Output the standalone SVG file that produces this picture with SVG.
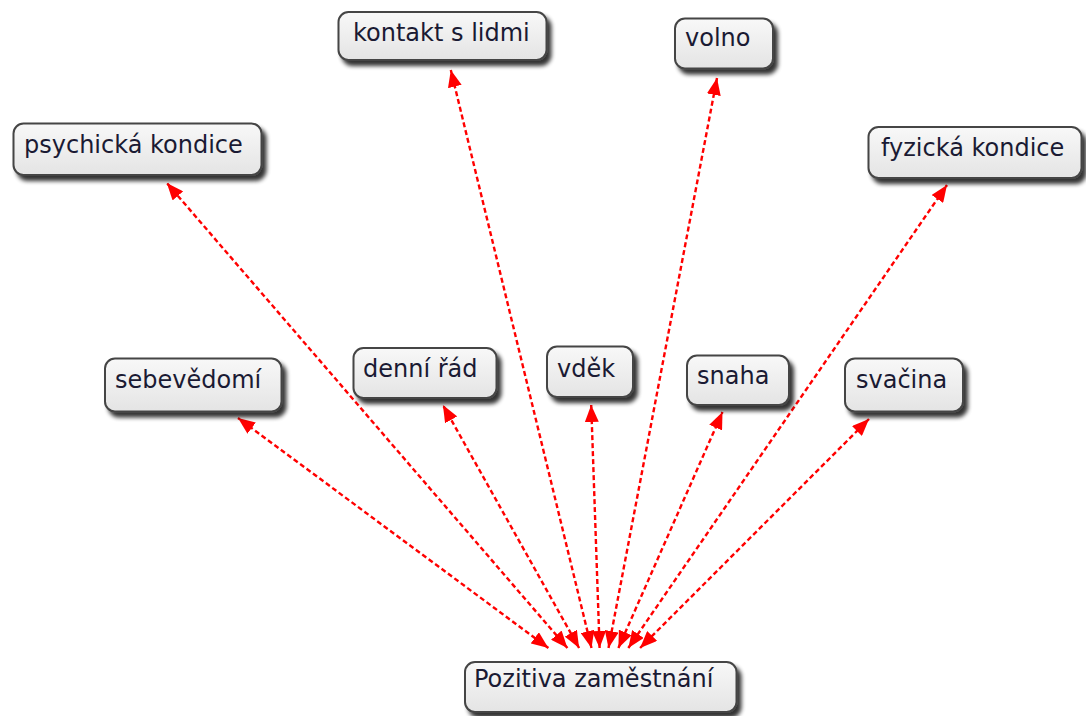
<svg xmlns="http://www.w3.org/2000/svg" width="1086" height="716" viewBox="0 0 1086 716">
<style>
.box{fill:url(#g);stroke:#454545;stroke-width:2;filter:url(#sh)}
.lbl{font-family:"DejaVu Sans",Verdana,sans-serif;font-size:24px;fill:#1a1a33}
.con{stroke:#ff0000;stroke-width:2.4;stroke-dasharray:5 3;fill:none;marker-start:url(#ah);marker-end:url(#ah)}
</style>
<defs>
<linearGradient id="g" x1="0" y1="0" x2="0" y2="1">
<stop offset="0" stop-color="#f8f8f8"/>
<stop offset="1" stop-color="#e4e4e4"/>
</linearGradient>
<filter id="sh" x="-10%" y="-20%" width="130%" height="160%">
<feGaussianBlur in="SourceAlpha" stdDeviation="2.2"/>
<feOffset dx="4" dy="5" result="b"/>
<feComponentTransfer><feFuncA type="linear" slope="0.8"/></feComponentTransfer>
<feMerge><feMergeNode/><feMergeNode in="SourceGraphic"/></feMerge>
</filter>
<marker id="ah" markerUnits="userSpaceOnUse" markerWidth="18" markerHeight="14" refX="17" refY="7" orient="auto-start-reverse" viewBox="0 0 18 14">
<path d="M0,0 L17,7 L0,14 z" fill="#ff0000"/>
</marker>
</defs>
<g id="connectors">
<line class="con" x1="548.4" y1="648" x2="238" y2="418"/>
<line class="con" x1="567.4" y1="648" x2="166.8" y2="183"/>
<line class="con" x1="579.1" y1="648" x2="442.9" y2="405"/>
<line class="con" x1="591.5" y1="648" x2="450.8" y2="70"/>
<line class="con" x1="599.6" y1="648" x2="591.2" y2="405"/>
<line class="con" x1="608.5" y1="648" x2="717" y2="78"/>
<line class="con" x1="618.4" y1="648" x2="722.5" y2="412"/>
<line class="con" x1="628.3" y1="648" x2="947" y2="185"/>
<line class="con" x1="640.1" y1="648" x2="869" y2="419"/>
</g>
<g id="n-kontakt"><rect class="box" x="338.5" y="12" width="208" height="48" rx="10"/><text class="lbl" x="353" y="41">kontakt s lidmi</text></g>
<g id="n-volno"><rect class="box" x="675" y="18.5" width="98" height="50" rx="10"/><text class="lbl" x="685" y="46">volno</text></g>
<g id="n-psychicka"><rect class="box" x="13.5" y="123.5" width="248" height="51.5" rx="10"/><text class="lbl" x="24" y="153">psychická kondice</text></g>
<g id="n-fyzicka"><rect class="box" x="868.5" y="127" width="213" height="51" rx="10"/><text class="lbl" x="881" y="156">fyzická kondice</text></g>
<g id="n-sebevedomi"><rect class="box" x="105" y="358.5" width="176.5" height="53" rx="10"/><text class="lbl" x="115" y="388">sebevědomí</text></g>
<g id="n-denni"><rect class="box" x="353.5" y="348" width="143" height="50" rx="10"/><text class="lbl" x="363" y="377">denní řád</text></g>
<g id="n-vdek"><rect class="box" x="547" y="346.5" width="86" height="50.5" rx="10"/><text class="lbl" x="557" y="377">vděk</text></g>
<g id="n-snaha"><rect class="box" x="687" y="355.5" width="102" height="49.5" rx="10"/><text class="lbl" x="697" y="384">snaha</text></g>
<g id="n-svacina"><rect class="box" x="845" y="358.5" width="118" height="53" rx="10"/><text class="lbl" x="856" y="388">svačina</text></g>
<g id="n-pozitiva"><rect class="box" x="465" y="662" width="271.5" height="50" rx="10"/><text class="lbl" x="474" y="687">Pozitiva zaměstnání</text></g>
</svg>
